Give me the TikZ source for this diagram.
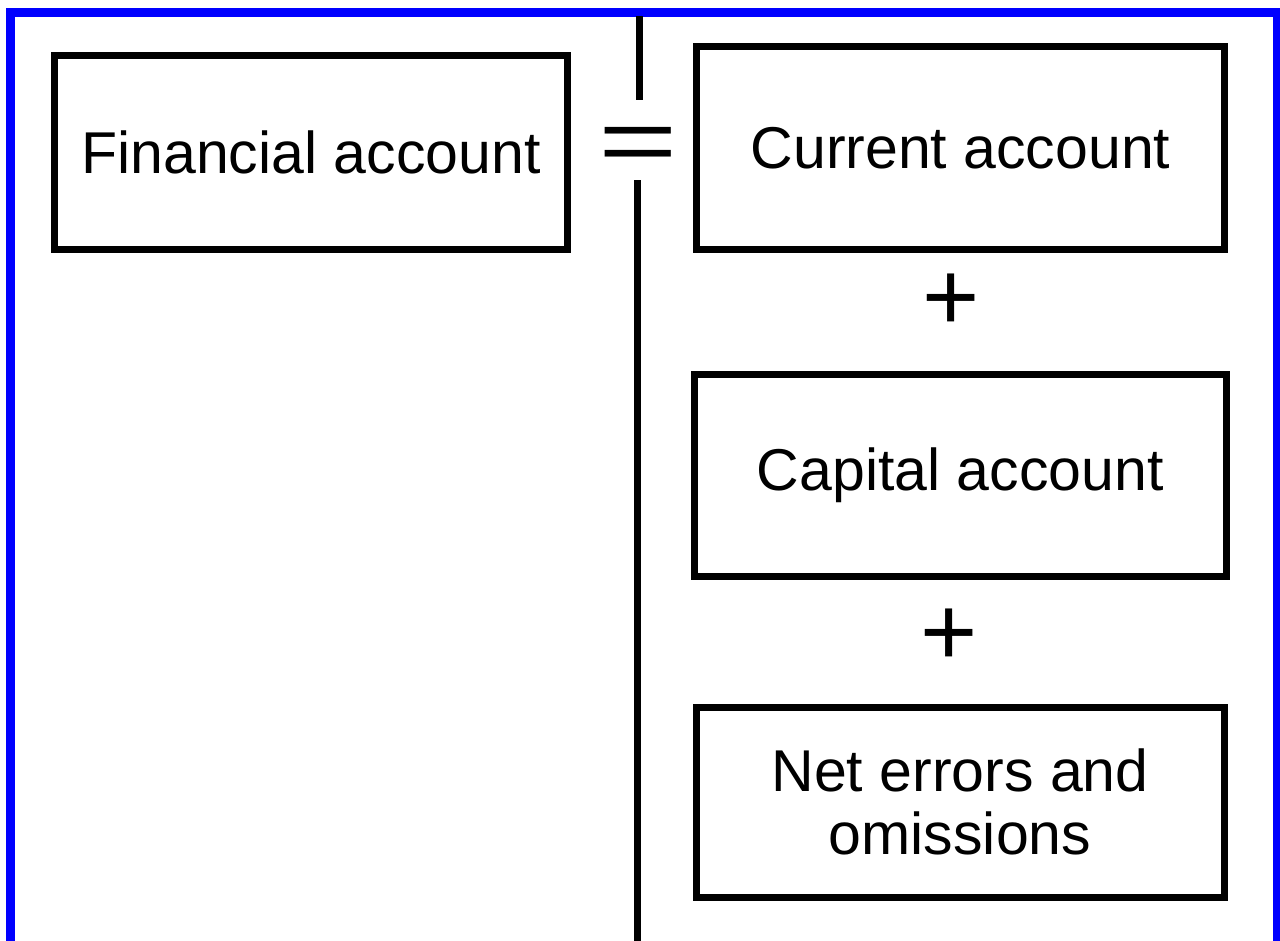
\documentclass[tikz,border=0pt]{standalone}
\usepackage{fontspec}
\setmainfont{Liberation Sans}
\usetikzlibrary{calc}

\begin{document}
\begin{tikzpicture}[x=1pt,y=-1pt,
    acct/.style={draw=black, line width=7pt, inner sep=0pt, align=center,
        font=\fontsize{59}{63}\selectfont},
    opsign/.style={inner sep=0pt}]
    \useasboundingbox (0,0) rectangle (1280,940);
    % frame
    \draw[blue, line width=9pt] (10.5,950) |- (1277,12.5) -- (1277,950);
    % left side
    \node[acct, minimum width=513pt, minimum height=194pt] (fin) at (311,152.5) {Financial account};
    % right side
    \node[acct, minimum width=528pt, minimum height=203pt] (cur) at (960.5,148) {Current account};
    \node[acct, minimum width=531.5pt, minimum height=202.5pt] (cap) at (960.25,475.25) {Capital account};
    \node[acct, minimum width=528pt, minimum height=189.5pt] (net) at (960,802.25) {Net errors and\\omissions};
    \node[opsign, font=\fontsize{98}{98}\selectfont] (plusA) at (951,302) {+};
    \node[opsign, font=\fontsize{98}{98}\selectfont] (plusB) at (949,637) {+};
    % equals sign and divider
    \node[opsign, minimum height=80pt, text height=64pt, text depth=0pt,
        font=\fontsize{92}{92}\selectfont] (eq) at (638.5,140) {\scalebox{1.48}[1]{=}};
    \coordinate (sepTop) at (639.5,16);
    \coordinate (sepBot) at (637.5,950);
    \draw[line width=7pt] (sepTop) -- (sepTop |- eq.north);
    \draw[line width=7pt] (sepBot |- eq.south) -- (sepBot);
\end{tikzpicture}
\end{document}
